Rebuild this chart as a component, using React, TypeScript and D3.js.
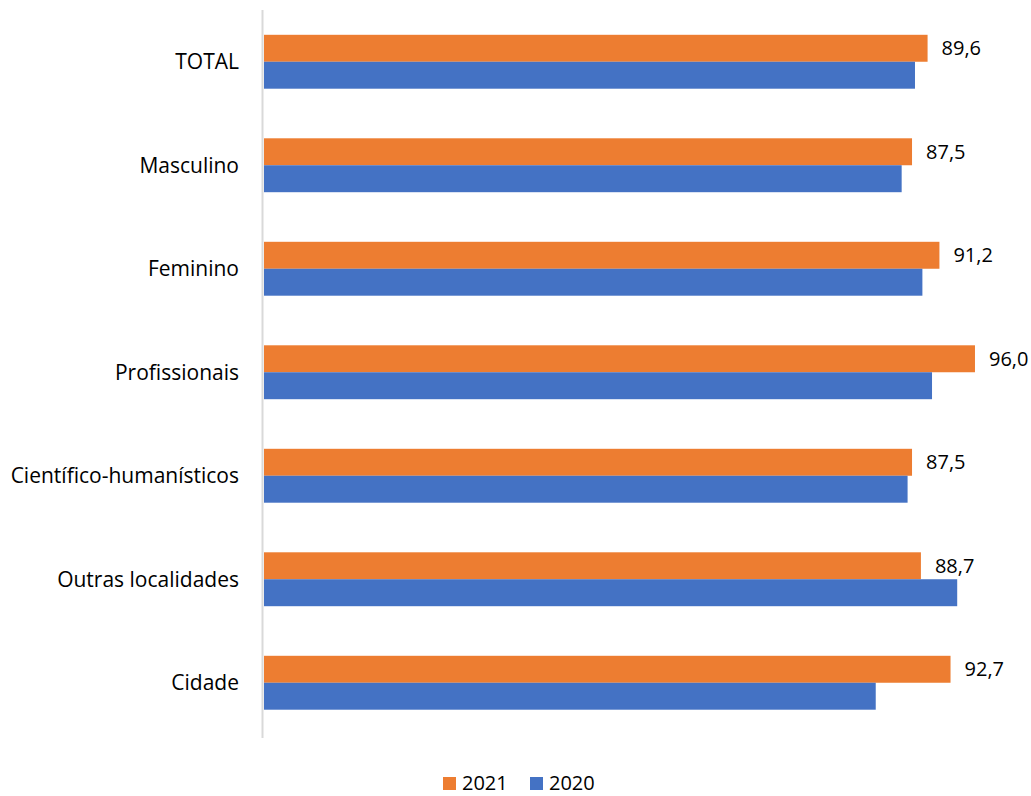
import { useEffect, useRef } from 'react';
import * as d3 from 'd3';

const WIDTH = 1031;
const HEIGHT = 796;

const categories = [
  'TOTAL',
  'Masculino',
  'Feminino',
  'Profissionais',
  'Científico-humanísticos',
  'Outras localidades',
  'Cidade',
];
const values2021 = [89.6, 87.5, 91.2, 96.0, 87.5, 88.7, 92.7];
const values2020 = [87.9, 86.1, 88.9, 90.2, 86.9, 93.6, 82.6];
const seriesNames = ['2021', '2020'];

const COLORS = { '2021': '#ed7d31', '2020': '#4472c4' };
const FONT = '"Open Sans", Lato, sans-serif';
const FONT_SIZE = 20;

function App() {
  const svgRef = useRef(null);

  useEffect(() => {
    const svg = d3.select(svgRef.current);
    svg.selectAll('*').remove();

    const y = d3.scaleBand()
      .domain(categories)
      .range([10, 734.5]);

    const x = d3.scaleLinear()
      .domain([0, 100])
      .range([264, 1004.6]);

    const inner = d3.scaleBand()
      .domain(seriesNames)
      .range([0, y.bandwidth()])
      .paddingInner(0)
      .paddingOuter(0.92);

    const rows = categories.map((c, i) => ({
      cat: c,
      vals: [
        { key: '2021', value: values2021[i] },
        { key: '2020', value: values2020[i] },
      ],
    }));

    const g = svg.append('g');

    g.selectAll('g.row')
      .data(rows)
      .join('g')
      .attr('class', 'row')
      .attr('transform', (d) => `translate(0,${y(d.cat)})`)
      .selectAll('rect')
      .data((d) => d.vals)
      .join('rect')
      .attr('x', x(0))
      .attr('y', (d) => inner(d.key))
      .attr('width', (d) => x(d.value) - x(0))
      .attr('height', inner.bandwidth())
      .attr('fill', (d) => COLORS[d.key]);

    // value labels for 2021
    g.selectAll('text.val')
      .data(rows)
      .join('text')
      .attr('class', 'val')
      .attr('x', (d) => x(d.vals[0].value) + 14)
      .attr('y', (d) => y(d.cat) + inner('2021') + inner.bandwidth() / 2)
      .attr('dy', '0.35em')
      .attr('font-family', FONT)
      .attr('font-size', FONT_SIZE)
      .attr('fill', '#000')
      .text((d) => d.vals[0].value.toFixed(1).replace('.', ','));

    // axis line
    g.append('line')
      .attr('x1', 262.5)
      .attr('x2', 262.5)
      .attr('y1', 10)
      .attr('y2', 738)
      .attr('stroke', '#d9d9d9')
      .attr('stroke-width', 2);

    // category labels
    g.selectAll('text.cat')
      .data(categories)
      .join('text')
      .attr('class', 'cat')
      .attr('x', 239)
      .attr('y', (d) => y(d) + y.bandwidth() / 2)
      .attr('dy', '0.35em')
      .attr('text-anchor', 'end')
      .attr('font-family', FONT)
      .attr('font-size', 21)
      .attr('fill', '#000')
      .text((d) => d);

    // legend
    const legendX = [443, 530];
    const legend = svg.append('g')
      .selectAll('g')
      .data(seriesNames)
      .join('g')
      .attr('transform', (d, i) => `translate(${legendX[i]},777)`);

    legend.append('rect')
      .attr('width', 13)
      .attr('height', 13)
      .attr('fill', (d) => COLORS[d]);

    legend.append('text')
      .attr('x', 19)
      .attr('y', 6)
      .attr('dy', '0.35em')
      .attr('font-family', FONT)
      .attr('font-size', FONT_SIZE)
      .attr('fill', '#000')
      .text((d) => d);
  }, []);

  return (
    <svg
      ref={svgRef}
      width={WIDTH}
      height={HEIGHT}
      style={{ display: 'block', position: 'absolute', left: 0, top: 0 }}
    />
  );
}

export default App;
